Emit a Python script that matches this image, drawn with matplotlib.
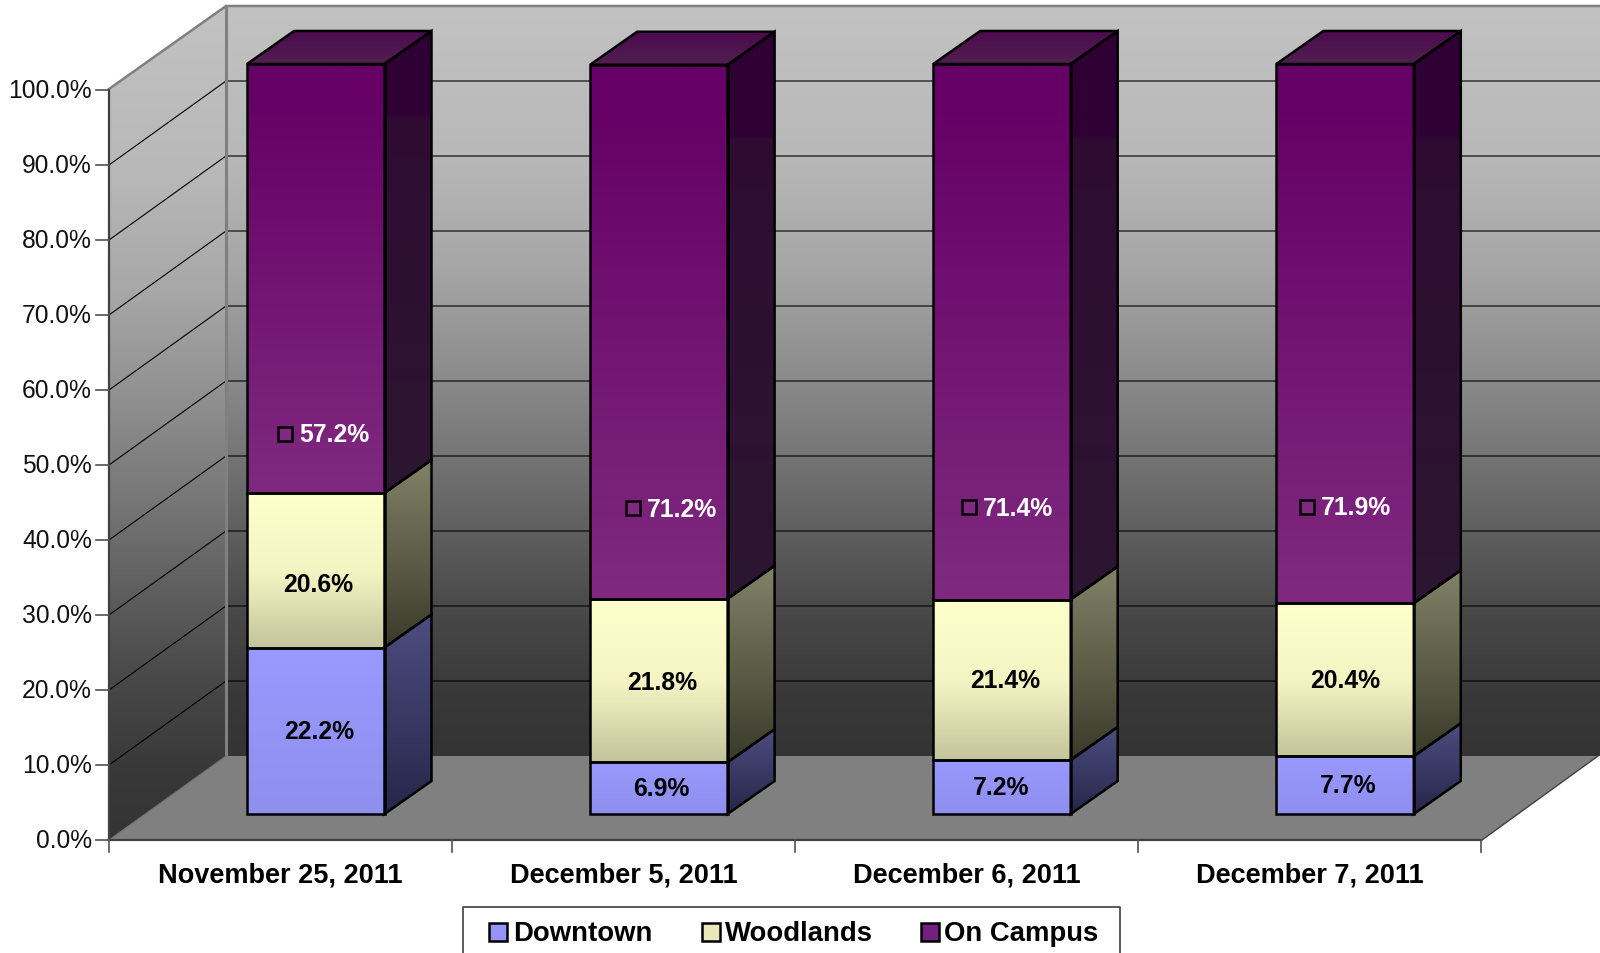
import matplotlib
matplotlib.use('Agg')
import matplotlib.pyplot as plt
import numpy as np
from matplotlib.colors import LinearSegmentedColormap
from matplotlib.patches import Polygon

# data
categories = ['November 25, 2011', 'December 5, 2011', 'December 6, 2011', 'December 7, 2011']
downtown = [22.2, 6.9, 7.2, 7.7]
woodlands = [20.6, 21.8, 21.4, 20.4]
on_campus = [57.2, 71.2, 71.4, 71.9]
series_names = ['Downtown', 'Woodlands', 'On Campus']
y_ticks = [0, 10, 20, 30, 40, 50, 60, 70, 80, 90, 100]

plt.rcParams['font.family'] = ['Liberation Sans', 'DejaVu Sans']

W, H = 1600, 954
# one category and one percent point in pixels
cat_px = 343.1
pct_px = 7.5
x0_px = 109
y0_px = 840
shift_px = 1  # whole drawing moved down a little

fig = plt.figure(figsize=(W / 100, H / 100), dpi=100)
ax = fig.add_axes([0, 0, 1, 1])


def px(x, y):
    # picture pixel -> data coordinates
    return (x - x0_px) / cat_px, (y0_px - y) / pct_px


def pxs(points):
    return [px(x, y) for x, y in points]


def gradient(points, colors, z):
    # polygon filled with a vertical gradient, colors from top to bottom
    pts = np.array(points)
    cmap = LinearSegmentedColormap.from_list('g', colors)
    grad = np.linspace(0, 1, 256).reshape(-1, 1)
    im = ax.imshow(grad, cmap=cmap, aspect='auto', zorder=z, interpolation='bilinear',
                   extent=[pts[:, 0].min(), pts[:, 0].max(), pts[:, 1].min(), pts[:, 1].max()])
    clip = Polygon(points, closed=True, transform=ax.transData)
    im.set_clip_path(clip)


# walls and floor
wall_colors = [(0, '#c2c2c2'), (0.2, '#b8b8b8'), (0.35, '#a6a6a6'), (0.5, '#8a8a8a'),
               (0.65, '#6a6a6a'), (0.8, '#4a4a4a'), (0.92, '#383838'), (1, '#343434')]
gradient(pxs([(226, 6), (1600, 6), (1600, 756), (226, 756)]), wall_colors, 1)
gradient(pxs([(109, 89), (226, 6), (226, 756), (109, 840)]), wall_colors, 1)
ax.add_patch(Polygon(pxs([(109, 840), (226, 756), (1598, 756), (1482, 840)]),
                     facecolor='#808080', edgecolor='none', zorder=2))

# gridlines on both walls
depth_x, depth_y = 117 / cat_px, 84 / pct_px
for t in y_ticks[1:-1]:
    ax.plot([0, depth_x, 4 + depth_x + 1], [t, t + depth_y, t + depth_y],
            color='black', lw=0.8, zorder=3)

# wall outlines
ax.plot(*zip(*pxs([(109, 89), (226, 6), (1600, 6)])), color='#808080', lw=1.8, zorder=3)
ax.plot(*zip(*pxs([(226, 6), (226, 756)])), color='#808080', lw=2.2, zorder=3)
ax.plot(*zip(*pxs([(109, 840), (226, 756)])), color='#6e6e6e', lw=0.8, zorder=3)
ax.plot(*zip(*pxs([(1482, 840), (1598, 756)])), color='#404040', lw=1, zorder=3)

# axis lines and ticks
ax.plot([0, 0], [0, 100], color='#404040', lw=1.6, zorder=4)
ax.plot([0, 4], [0, 0], color='#404040', lw=1.6, zorder=4)
tick_len = 13 / cat_px
for t in y_ticks:
    ax.plot([-tick_len, 0], [t, t], color='#505050', lw=1.2, zorder=4)
    ax.text(*px(92, y0_px - t * pct_px), f'{t:.1f}%', ha='right', va='center',
            fontsize=17.7, color='#111111', zorder=6)
for i in range(5):
    ax.plot([i, i], [0, -12 / pct_px], color='#505050', lw=1.2, zorder=4)
for i, name in enumerate(categories):
    ax.text(i + 0.5, (y0_px - 875) / pct_px, name, ha='center', va='center',
            fontsize=19.5, fontweight='bold', color='black', zorder=6)

# stacked 3d bars
bar_left = 138 / cat_px
bar_w = 137.5 / cat_px
bar_base = 26 / pct_px
bar_dx = 47 / cat_px
bar_dy = 33 / pct_px
styles = [
    (['#9999ff', '#8f8fee'], ['#4d4d80', '#26264a']),
    (['#ffffcc', '#f5f5c4', '#c4c49c'], ['#828268', '#3a3a2a']),
    ([(0, '#660066'), (0.07, '#660066'), (1, '#7f2a80')],
     [(0, '#2e0033'), (0.18, '#2e0033'), (0.19, '#2f0c33'), (1, '#2c1630')]),
]
for i in range(4):
    bottom = bar_base
    xl = i + bar_left
    xr = xl + bar_w
    for vals, (front_col, side_col) in zip([downtown, woodlands, on_campus], styles):
        top = bottom + vals[i]
        front = [(xl, bottom), (xr, bottom), (xr, top), (xl, top)]
        side = [(xr, bottom), (xr + bar_dx, bottom + bar_dy), (xr + bar_dx, top + bar_dy), (xr, top)]
        gradient(front, front_col, 5)
        gradient(side, side_col, 5)
        for face in (front, side):
            ax.add_patch(Polygon(face, facecolor='none', edgecolor='black', lw=1.8,
                                 joinstyle='miter', zorder=5.5))
        bottom = top
    lid = [(xl, bottom), (xr, bottom), (xr + bar_dx, bottom + bar_dy), (xl + bar_dx, bottom + bar_dy)]
    gradient(lid, ['#4d0a50', '#50204f'], 5)
    ax.add_patch(Polygon(lid, facecolor='none', edgecolor='black', lw=1.8,
                         joinstyle='miter', zorder=5.5))

# data labels, centres
downtown_pos = [(319, 731), (661, 788), (1001, 787), (1348, 785)]
woodlands_pos = [(318, 584), (662, 682), (1005, 680), (1345, 680)]
campus_pos = [(334, 434), (682, 509), (1018, 508), (1356, 507)]
key_pos = [(285, 434), (633, 508), (969, 507), (1307, 507)]
for i in range(4):
    ax.text(*px(*downtown_pos[i]), f'{downtown[i]}%', ha='center', va='center',
            fontsize=17.8, fontweight='bold', color='black', zorder=7)
    ax.text(*px(*woodlands_pos[i]), f'{woodlands[i]}%', ha='center', va='center',
            fontsize=17.8, fontweight='bold', color='black', zorder=7)
    ax.text(*px(*campus_pos[i]), f'{on_campus[i]}%', ha='center', va='center',
            fontsize=17.8, fontweight='bold', color='white', zorder=7)
    kx, ky = key_pos[i]
    ax.add_patch(Polygon(pxs([(kx - 7, ky - 7), (kx + 7, ky - 7), (kx + 7, ky + 7), (kx - 7, ky + 7)]),
                         facecolor='#7f2a80', edgecolor='black', lw=1.8, zorder=7))

# legend
ax.plot(*zip(*pxs([(463, 960), (463, 907), (1120, 907), (1120, 960)])),
        color='#404040', lw=1.2, zorder=6)
legend_keys = [489, 702, 921]
legend_text = [513, 725, 944]
legend_fill = ['#9494f6', '#e8e8bc', '#732080']
for name, kx, tx, col in zip(series_names, legend_keys, legend_text, legend_fill):
    ax.add_patch(Polygon(pxs([(kx, 923), (kx + 18, 923), (kx + 18, 941), (kx, 941)]),
                         facecolor=col, edgecolor='black', lw=1.8, zorder=7))
    ax.text(*px(tx, 933), name, ha='left', va='center', fontsize=19.8,
            fontweight='bold', color='black', zorder=7)

ax.set_xlim(-x0_px / cat_px, (W - x0_px) / cat_px)
ax.set_ylim((y0_px + shift_px - H) / pct_px, (y0_px + shift_px) / pct_px)
ax.axis('off')

fig.savefig('out.png', dpi=100, facecolor='white')
